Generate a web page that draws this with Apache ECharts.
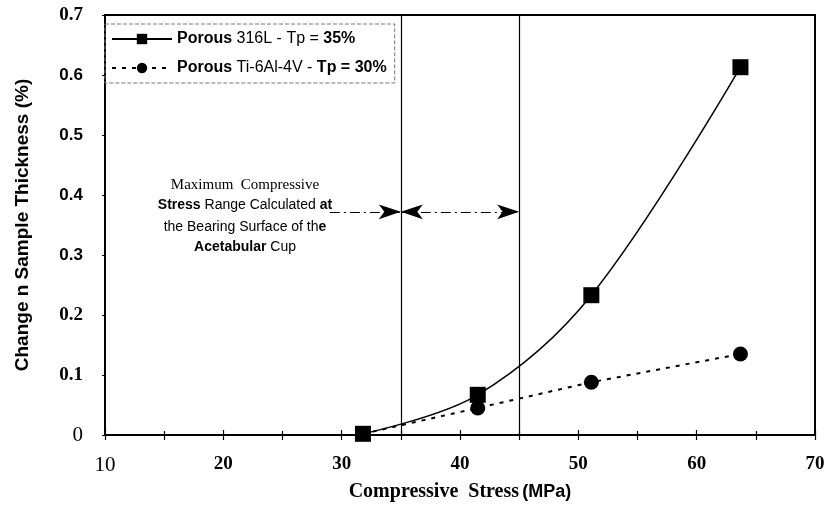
<!DOCTYPE html>
<html>
<head>
<meta charset="utf-8">
<script src="https://cdn.jsdelivr.net/npm/echarts@6/dist/echarts.min.js"></script>
<style>html,body{margin:0;padding:0;background:#fff}#chart{width:829px;height:509px}</style>
</head>
<body>
<div id="chart"></div>
<script>
// ---- data ----
const seriesNames = ['Porous 316L - Tp = 35%', 'Porous Ti-6Al-4V - Tp = 30%'];
const stress316 = [31.8, 41.5, 51.1, 63.7];
const thick316 = [0.002, 0.067, 0.233, 0.613];
const stressTi = [31.8, 41.5, 51.1, 63.7];
const thickTi = [0.002, 0.045, 0.088, 0.135];
const rangeBounds = [35, 45];
const arrowLevel = 0.372;
const arrowTail = 29;
const xTicks = [10, 20, 30, 40, 50, 60, 70];
const yTicks = [0, 0.1, 0.2, 0.3, 0.4, 0.5, 0.6, 0.7];
const annotationLines = [
  '{s|Maximum  Compressive}',
  '{b|Stress} Range Calculated {b|at}',
  'the Bearing Surface of th{b|e}',
  '{b|Acetabular} Cup'
];

const pts316 = stress316.map((x, i) => [x, thick316[i]]);
const ptsTi = stressTi.map((x, i) => (i === 0 ? { value: [x, thickTi[i]], symbol: 'none' } : [x, thickTi[i]]));

const chart = echarts.init(document.getElementById('chart'));
const serif = '"Liberation Serif", "DejaVu Serif", serif';
const sans = '"Liberation Sans", Arial, sans-serif';

chart.setOption({
  animation: false,
  backgroundColor: '#fff',
  grid: { left: 105, right: 14, top: 15, bottom: 74, show: true, borderColor: '#000', borderWidth: 2, backgroundColor: 'transparent' },
  legend: {
    left: 105, top: 24, orient: 'vertical',
    itemWidth: 60, itemHeight: 13, itemGap: 13,
    padding: [7, 8, 7, 6],
    borderColor: '#777', borderWidth: 1, borderType: 'dashed',
    data: seriesNames,
    formatter: function (n) {
      if (n === seriesNames[0]) return '{b|Porous} 316L - Tp = {b|35%}';
      return '{b|Porous} Ti-6Al-4V - {b|Tp = 30%}';
    },
    textStyle: {
      fontFamily: sans, fontSize: 16, color: '#000',
      rich: { b: { fontFamily: sans, fontSize: 16, fontWeight: 'bold', color: '#000' } }
    }
  },
  xAxis: [{
    type: 'value', min: 10, max: 70, interval: 10,
    name: '{s|Compressive  Stress} {a|(MPa)}',
    nameLocation: 'middle', nameGap: 47,
    nameTextStyle: {
      rich: {
        s: { fontFamily: serif, fontWeight: 'bold', fontSize: 20, color: '#000' },
        a: { fontFamily: sans, fontWeight: 'bold', fontSize: 18, color: '#000' }
      }
    },
    axisLine: { lineStyle: { color: '#000', width: 2 } },
    axisTick: { show: true, length: 5, lineStyle: { color: '#000', width: 1.2 } },
    minorTick: { show: true, splitNumber: 2, length: 5, lineStyle: { color: '#000', width: 1.2 } },
    splitLine: { show: false },
    axisLabel: {
      margin: 20,
      formatter: function (v) { return v === xTicks[0] ? '{r|' + v + '}' : '{b|' + v + '}'; },
      rich: {
        r: { fontFamily: serif, fontSize: 21, color: '#000' },
        b: { fontFamily: serif, fontSize: 19, fontWeight: 'bold', color: '#000' }
      }
    }
  }, {
    type: 'value', min: 10, max: 70, interval: 10, position: 'bottom',
    axisLine: { show: false },
    axisTick: { show: true, inside: true, length: 5, lineStyle: { color: '#000', width: 1.2 } },
    minorTick: { show: true, splitNumber: 2, length: 4, lineStyle: { color: '#000', width: 1.2 } },
    axisLabel: { show: false },
    splitLine: { show: false }
  }],
  yAxis: {
    type: 'value', min: 0, max: 0.7, interval: 0.1,
    name: 'Change n Sample Thickness (%)',
    nameLocation: 'middle', nameGap: 73,
    nameTextStyle: { fontFamily: sans, fontWeight: 'bold', fontSize: 19, color: '#000' },
    axisLine: { show: true, lineStyle: { color: '#000', width: 2 } },
    axisTick: { show: true, length: 3, lineStyle: { color: '#000' } },
    splitLine: { show: false },
    axisLabel: {
      margin: 22,
      formatter: function (v) {
        const t = Math.round(v * 10) / 10;
        if (t === 0) return '{r|0}';
        const s = t.toFixed(1);
        if (t >= 0.3 && t <= 0.6) return '{s|' + s + '}';
        return '{b|' + s + '}';
      },
      rich: {
        r: { fontFamily: serif, fontSize: 21, color: '#000' },
        b: { fontFamily: serif, fontSize: 19, fontWeight: 'bold', color: '#000' },
        s: { fontFamily: sans, fontSize: 17, fontWeight: 'bold', color: '#000' }
      }
    }
  },
  graphic: annotationLines.map((t, i) => ({
    type: 'text',
    x: 245, y: [185, 205, 227, 247][i],
    style: {
      text: t,
      align: 'center', verticalAlign: 'middle',
      font: '14px "Liberation Sans", Arial, sans-serif',
      fill: '#000',
      rich: {
        s: { fontFamily: serif, fontSize: 15, color: '#000' },
        b: { fontFamily: sans, fontSize: 14, fontWeight: 'bold', color: '#000' }
      }
    },
    z: 10
  })),
  series: [{
    name: seriesNames[0], type: 'line', data: pts316,
    smooth: 0.35, symbol: 'rect', symbolSize: 16,
    itemStyle: { color: '#000' },
    lineStyle: { color: '#000', width: 1.5 },
    z: 5,
    markLine: {
      silent: true, animation: false,
      label: { show: false },
      symbol: 'none',
      data: [
        { xAxis: rangeBounds[0], lineStyle: { color: '#000', width: 1.2, type: 'solid' } },
        { xAxis: rangeBounds[1], lineStyle: { color: '#000', width: 1.2, type: 'solid' } },
        [
          { coord: [arrowTail, arrowLevel], symbol: 'none', lineStyle: { color: '#000', width: 1.2, type: [10, 4, 2, 4] } },
          { coord: [rangeBounds[0], arrowLevel], symbol: 'arrow', symbolSize: [11, 22] }
        ],
        [
          { coord: [rangeBounds[0], arrowLevel], symbol: 'arrow', symbolSize: [11, 22], lineStyle: { color: '#000', width: 1.2, type: [10, 4, 2, 4] } },
          { coord: [rangeBounds[1], arrowLevel], symbol: 'arrow', symbolSize: [11, 22] }
        ]
      ]
    }
  }, {
    name: seriesNames[1], type: 'line', data: ptsTi,
    smooth: false, symbol: 'circle', symbolSize: 15,
    itemStyle: { color: '#000' },
    lineStyle: { color: '#000', width: 2, type: [4, 6] },
    z: 4
  }]
});
</script>
</body>
</html>
